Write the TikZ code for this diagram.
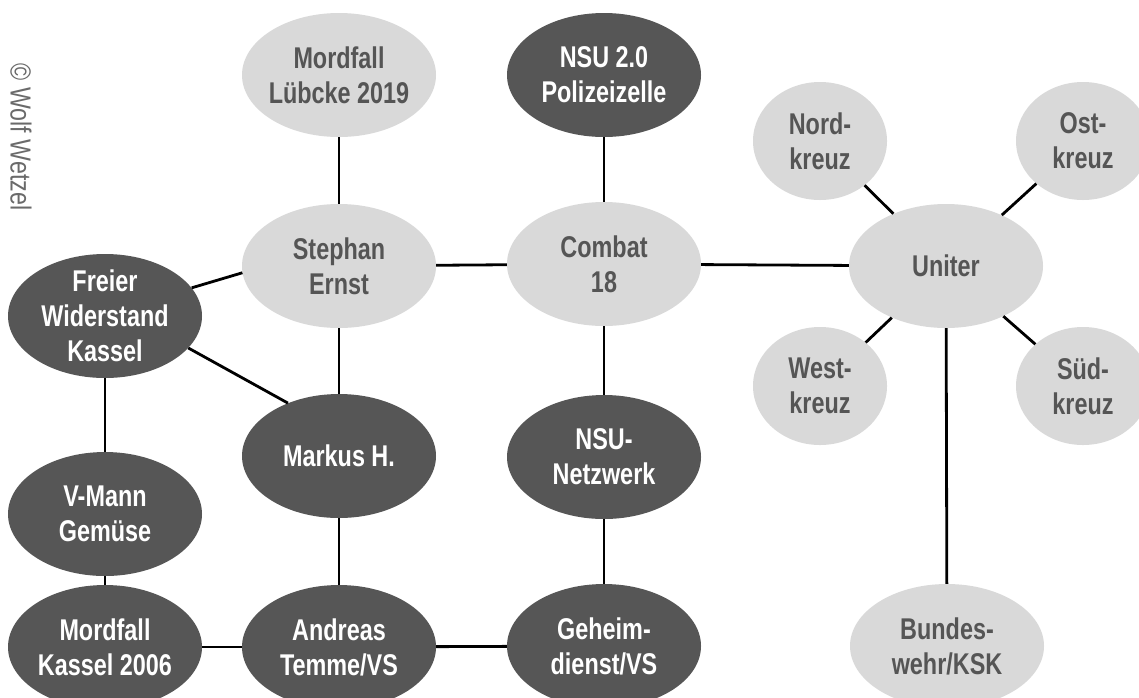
\documentclass[tikz,border=0pt]{standalone}
\usepackage{fontspec}
\usetikzlibrary{shapes.geometric}
\newfontfamily\nodefont{Liberation Sans}[FakeStretch=0.78]
\newfontfamily\copyfont{Liberation Sans}[FakeStretch=0.8]
\definecolor{lightfill}{HTML}{D9D9D9}
\definecolor{darkfill}{HTML}{565656}
\definecolor{lighttext}{HTML}{555555}
\definecolor{copytext}{HTML}{6A6A6A}
\tikzset{
  ent/.style={ellipse, inner sep=0pt, draw=none, minimum width=194pt, minimum height=124pt},
  small/.style={minimum width=134pt, minimum height=118pt},
  lightent/.style={ent, fill=lightfill},
  darkent/.style={ent, fill=darkfill},
  ltxt/.style={align=center, inner sep=0pt, text=lighttext, font=\nodefont\bfseries\fontsize{30}{35}\selectfont},
  dtxt/.style={align=center, inner sep=0pt, text=white, font=\nodefont\bfseries\fontsize{30}{35}\selectfont},
  link/.style={draw=black, line width=2.8pt}
}
\begin{document}
\begin{tikzpicture}[x=1pt,y=-1pt]
\useasboundingbox[fill=white] (0,0) rectangle (1139,697);
% nodes
\node[lightent, label={[ltxt]center:Mordfall\\Lübcke 2019}] (ml) at (339,75) {};
\node[lightent, label={[ltxt]center:Stephan\\Ernst}] (se) at (339,266) {};
\node[darkent, label={[dtxt]center:Freier\\Widerstand\\Kassel}] (fw) at (105,316) {};
\node[darkent, label={[dtxt]center:Markus H.}] (mh) at (339,456) {};
\node[darkent, label={[dtxt]center:V-Mann\\Gemüse}] (vm) at (105,514) {};
\node[darkent, label={[dtxt]center:Mordfall\\Kassel 2006}] (mk) at (105,647) {};
\node[darkent, label={[dtxt]center:Andreas\\Temme/VS}] (at) at (339,647) {};
\node[darkent, label={[dtxt]center:NSU 2.0\\Polizeizelle}] (nsu2) at (604,75) {};
\node[lightent, label={[ltxt]center:Combat\\18}] (c18) at (604,264) {};
\node[darkent, label={[dtxt]center:NSU-\\Netzwerk}] (nn) at (604,457) {};
\node[darkent, label={[dtxt]center:Geheim-\\dienst/VS}] (gd) at (604,646) {};
\node[lightent, label={[ltxt]center:Uniter}] (un) at (946,266) {};
\node[lightent, small, label={[ltxt]center:Nord-\\kreuz}] (nk) at (820,141) {};
\node[lightent, small, label={[ltxt]center:Ost-\\kreuz}] (ok) at (1083,141) {};
\node[lightent, small, label={[ltxt]center:West-\\kreuz}] (wk) at (820,386) {};
\node[lightent, small, label={[ltxt]center:Süd-\\kreuz}] (sk) at (1083,386) {};
\node[lightent, label={[ltxt]center:Bundes-\\wehr/KSK}] (bw) at (947,646) {};
% copyright
\node[rotate=-90, inner sep=0pt, text=copytext, font=\copyfont\fontsize{29}{30}\selectfont] (copy) at (21,137) {© Wolf Wetzel};
% links
\draw[link] (ml) -- (se);
\draw[link] (se) -- (c18);
\draw[link] (fw.18) -- (se.184);
\draw[link] (se) -- (mh);
\draw[link] (fw.-21) -- (mh.134);
\draw[link] (fw) -- (vm);
\draw[link] (vm) -- (mk);
\draw[link] (mk) -- (at);
\draw[link] (mh) -- (at);
\draw[link] (at) -- (gd);
\draw[link] (gd) -- (nn);
\draw[link] (nn) -- (c18);
\draw[link] (c18) -- (nsu2);
\draw[link] (c18) -- (un);
\draw[link] (un) -- (nk);
\draw[link] (un) -- (ok);
\draw[link] (un) -- (wk);
\draw[link] (un) -- (sk);
\draw[link] (un) -- (bw);
\end{tikzpicture}
\end{document}
